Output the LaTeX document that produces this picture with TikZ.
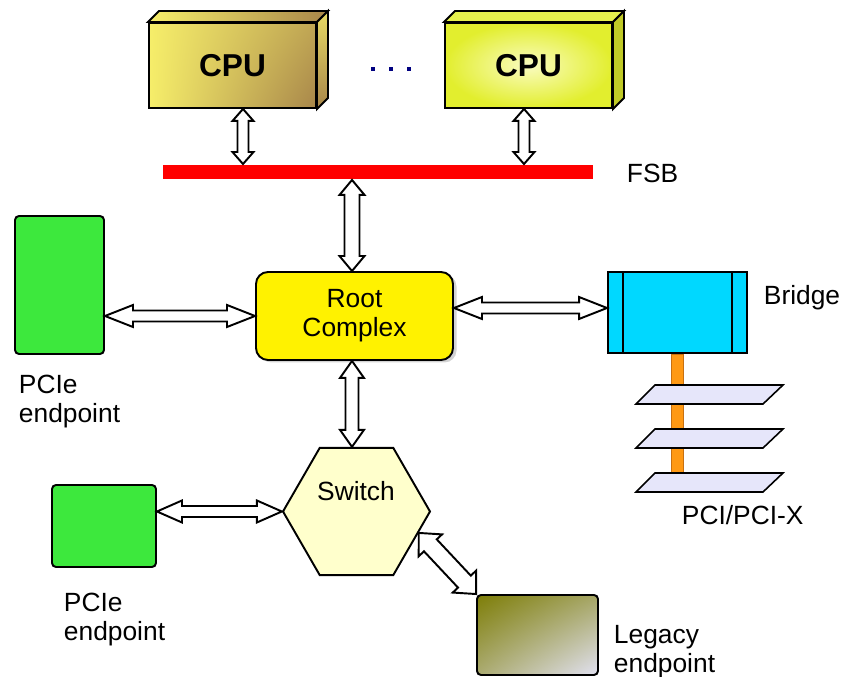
\documentclass[tikz,border=0pt]{standalone}
\usepackage{fontspec}
\setmainfont{Liberation Sans}
\usetikzlibrary{calc,shapes.geometric,shadows,shadings}

\definecolor{epgreen}{HTML}{3DE83D}
\definecolor{bridgecyan}{HTML}{00D8FF}
\definecolor{busorange}{HTML}{FF9914}
\definecolor{busedge}{HTML}{C87010}
\definecolor{slotblue}{HTML}{E6E6FA}
\definecolor{switchyellow}{HTML}{FFFFCC}
\definecolor{dotnavy}{HTML}{000080}
\definecolor{cpuAyellow}{HTML}{F6EE6A}
\definecolor{cpuAbrown}{HTML}{A8864A}
\definecolor{cpuBin}{HTML}{FAFCC0}
\definecolor{cpuBout}{HTML}{E2EE2E}
\definecolor{legacyA}{HTML}{7E7E08}
\definecolor{legacyB}{HTML}{E2E2F2}

% hollow two-headed arrow: from, to, half head width, half shaft width, head length
\newcommand{\dbarrow}[5]{%
  \coordinate (h1) at ($(#1)!#5!(#2)$);
  \coordinate (h2) at ($(#2)!#5!(#1)$);
  \draw[bigarrow] (#1) -- ($(h1)!#3!90:(#2)$) -- ($(h1)!#4!90:(#2)$)
    -- ($(h2)!#4!-90:(#1)$) -- ($(h2)!#3!-90:(#1)$) -- (#2)
    -- ($(h2)!#3!90:(#1)$) -- ($(h2)!#4!90:(#1)$)
    -- ($(h1)!#4!-90:(#2)$) -- ($(h1)!#3!-90:(#2)$) -- cycle;}

\begin{document}
\begin{tikzpicture}[x=0.2mm,y=-0.2mm,line width=1.1pt,
  every node/.style={font=\fontsize{15}{16.5}\selectfont},
  plainbox/.style={draw,inner sep=0pt},
  endpoint/.style={plainbox,fill=epgreen,rounded corners=0.8mm},
  cpubox/.style={plainbox,minimum width=33.4mm,minimum height=17mm,
    font=\fontsize{18}{20}\selectfont\bfseries},
  bigarrow/.style={draw,fill=white,line join=miter},
  caption/.style={align=left,anchor=north west,inner sep=0pt},
  slot/.style={draw,fill=slotblue,line width=0.9pt}]
  \useasboundingbox (0,0) rectangle (842,677);

  % processors
  \node[cpubox,upper left=cpuAyellow,lower left=cpuAyellow,
    upper right=cpuAbrown!70!cpuAyellow,lower right=cpuAbrown] (cpuA) at (232.5,65.5) {CPU};
  \draw[left color=cpuAyellow,right color=cpuAbrown] (cpuA.north west) -- ++(11,-11)
    -- ([shift={(11,-11)}]cpuA.north east) -- (cpuA.north east) -- cycle;
  \draw[top color=cpuAyellow!80!cpuAbrown,bottom color=cpuAbrown] (cpuA.north east) -- ++(11,-11)
    -- ([shift={(11,-11)}]cpuA.south east) -- (cpuA.south east) -- cycle;

  \node[cpubox,inner color=cpuBin,outer color=cpuBout] (cpuB) at (528.5,65.5) {CPU};
  \draw[fill=cpuBout!85!white] (cpuB.north west) -- ++(11,-11)
    -- ([shift={(11,-11)}]cpuB.north east) -- (cpuB.north east) -- cycle;
  \draw[fill=cpuBout!85!black] (cpuB.north east) -- ++(11,-11)
    -- ([shift={(11,-11)}]cpuB.south east) -- (cpuB.south east) -- cycle;

  \foreach \dx in {373,391,409}
    \fill[dotnavy] (\dx-2,67) rectangle (\dx+2,71);

  % front side bus
  \node[fill=red,inner sep=0pt,minimum width=86mm,minimum height=2.8mm] (fsb) at (378,172) {};
  \node[anchor=base west,inner sep=0pt] (fsblbl) at (626,183) {FSB};

  \node[plainbox,fill=yellow,rounded corners=2.4mm,minimum width=39.4mm,minimum height=17.6mm,
    align=center,drop shadow={shadow xshift=0.7mm,shadow yshift=-0.5mm,opacity=0.35}]
    (root) at (354.5,316) {Root\\Complex};

  % bridge and PCI slots
  \node[plainbox,fill=bridgecyan,minimum width=27.8mm,minimum height=16.2mm] (bridge) at (677.5,312.5) {};
  \draw ([xshift=3.2mm]bridge.north west) -- ([xshift=3.2mm]bridge.south west);
  \draw ([xshift=-3.2mm]bridge.north east) -- ([xshift=-3.2mm]bridge.south east);
  \filldraw[fill=busorange,draw=busedge,line width=0.5pt]
    ([xshift=-1.2mm]bridge.south) rectangle ++(12,128);
  \node[anchor=base west,inner sep=0pt] (bridgelbl) at (763,305) {Bridge};
  \foreach \sy in {385,429,473}
    \draw[slot] (655,\sy) -- (783,\sy) -- (763,\sy+19) -- (636,\sy+19) -- cycle;
  \node[anchor=base west,inner sep=0pt] (pcilbl) at (681,525) {PCI/PCI-X};

  \node[endpoint,minimum width=17.8mm,minimum height=27.6mm] (epA) at (59.5,285) {};
  \node[caption] (epAlbl) at (18,374) {PCIe\\endpoint};
  \node[endpoint,minimum width=20.8mm,minimum height=16.4mm] (epB) at (104,526) {};
  \node[caption] (epBlbl) at (63,592) {PCIe\\endpoint};

  \node[plainbox,regular polygon,regular polygon sides=6,minimum size=29.4mm,
    fill=switchyellow] (switch) at (356.5,511.5) {};
  \node[anchor=base,inner sep=0pt] (switchlbl) at (356,501) {Switch};

  \node[plainbox,rounded corners=0.8mm,minimum width=24.2mm,minimum height=16mm,
    upper left=legacyA,upper right=legacyA!60!legacyB,lower left=legacyA!55!legacyB,
    lower right=legacyB] (legacy) at (537.5,635) {};
  \node[caption] (legacylbl) at (613,624) {Legacy\\endpoint};

  % links
  \coordinate (cpuAport) at ([xshift=2.1mm]cpuA.south);
  \coordinate (fsbA) at (cpuAport |- fsb.north);
  \dbarrow{cpuAport}{fsbA}{2.1mm}{1.1mm}{2.4mm}
  \coordinate (cpuBport) at ([xshift=-0.9mm]cpuB.south);
  \coordinate (fsbB) at (cpuBport |- fsb.north);
  \dbarrow{cpuBport}{fsbB}{2.1mm}{1.1mm}{2.4mm}
  \coordinate (rootT) at ([xshift=-0.5mm]root.north);
  \coordinate (fsbR) at (rootT |- fsb.south);
  \dbarrow{fsbR}{rootT}{2.5mm}{1.5mm}{3mm}
  \coordinate (rootB) at ([xshift=-0.5mm]root.south);
  \coordinate (switchT) at (rootB |- switch.north);
  \dbarrow{rootB}{switchT}{2.4mm}{1.3mm}{3.4mm}
  \coordinate (epAport) at (epA.east |- root.west);
  \dbarrow{epAport}{root.west}{2.2mm}{1.1mm}{5.6mm}
  \coordinate (bridgeport) at ([yshift=0.9mm]bridge.west);
  \coordinate (rootport) at (root.east |- bridgeport);
  \dbarrow{rootport}{bridgeport}{2.2mm}{1.1mm}{5.6mm}
  \coordinate (epBport) at (epB.east |- switch.west);
  \dbarrow{epBport}{switch.west}{2.2mm}{1.1mm}{5mm}
  \dbarrow{switch.-19}{legacy.north west}{3.2mm}{1.75mm}{3.4mm}
\end{tikzpicture}
\end{document}
